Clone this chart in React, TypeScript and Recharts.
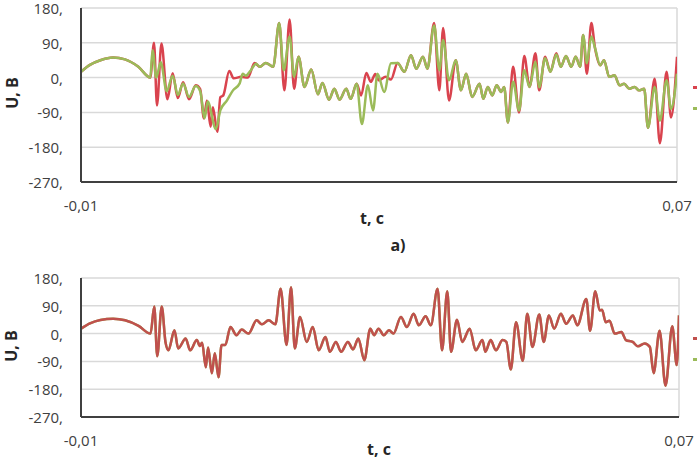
import { LineChart, Line, XAxis, YAxis, CartesianGrid, Legend } from "recharts";

// time in ms, voltage in V
const topRed: [number, number][] = [
  [-10, 15], [-8.8, 33], [-7.4, 45], [-5.7, 52], [-4.1, 47], [-2.3, 28], [-0.7, 0],
  [-0.2, 90], [0.2, -72], [0.8, 88], [1.6, -56], [2.3, 11], [3.0, -53], [3.7, -12],
  [4.5, -56], [5.4, -20], [6.0, -30], [6.5, -106], [6.9, -59], [7.4, -127], [7.7, -77],
  [8.3, -140], [8.7, -51], [9.1, -46], [9.9, 17], [10.5, -2], [11.5, 2], [12.4, 0],
  [13.3, 38], [14.0, 28], [14.8, 38], [15.8, 28], [16.6, 141], [17.3, -33], [18.0, 150],
  [18.6, -29], [19.2, 54], [20.0, -24], [20.9, 21], [21.8, -43], [22.4, -14], [23.3, -57],
  [24.0, -29], [24.7, -57], [25.6, -29], [26.2, -55], [27.0, -16], [27.6, -46], [28.3, 12],
  [28.9, -11], [29.5, 9], [30.0, -7], [30.9, 2], [31.6, -5], [32.5, 38], [33.4, 15],
  [34.3, 58], [35.0, 23], [35.9, 54], [36.5, 23], [37.4, 141], [38.1, -33], [38.6, 128],
  [39.4, -59], [40.3, 45], [41.0, -33], [41.7, 10], [42.5, -50], [43.5, -16], [44.0, -55],
  [44.6, -24], [45.2, -46], [45.8, -20], [46.4, -37], [46.8, -24], [47.3, -116], [48.0, 28],
  [48.8, -90], [49.5, 56], [50.2, -24], [51.0, 63], [51.5, -33], [52.3, 54], [53.0, 15],
  [53.8, 63], [54.4, 28], [55.1, 56], [55.8, 28], [56.4, 54], [57.0, 28], [57.4, 110],
  [57.9, 10], [58.5, 141], [59.0, 76], [59.7, 32], [60.2, 45], [60.9, 2], [61.6, 6],
  [62.3, -20], [62.9, -16], [63.6, -29], [64.3, -24], [64.9, -33], [65.6, -29], [66.1, -130],
  [67.0, -3], [67.7, -170], [68.6, 15], [69.2, -103], [70.0, 54],
];

const topGreen: [number, number][] = [
  [-10, 15], [-8.8, 33], [-7.4, 45], [-5.7, 52], [-4.1, 47], [-2.3, 28], [-0.7, 0],
  [-0.4, 71], [0.1, 0], [0.7, 40], [1.5, -35], [2.3, 5], [3.0, -45], [3.7, -15],
  [4.5, -50], [5.4, -22], [6.0, -35], [6.6, -105], [7.0, -62], [8.1, -133], [8.7, -85],
  [9.6, -59], [10.4, -33], [11.3, -15], [11.7, 10], [12.1, 5], [12.8, 19], [13.5, 36],
  [14.0, 28], [14.8, 38], [15.8, 28], [16.6, 141], [17.2, 19], [18.0, 106], [18.6, 2],
  [19.2, 54], [20.0, -24], [20.9, 21], [21.8, -43], [22.4, -14], [23.3, -57], [24.0, -29],
  [24.7, -57], [25.6, -29], [26.2, -55], [27.0, -16], [27.7, -120], [28.5, -20], [29.2, -85],
  [29.8, 10], [30.7, -37], [31.6, 37], [32.5, 38], [33.4, 15], [34.3, 58], [35.0, 23],
  [35.9, 54], [36.5, 23], [37.4, 135], [38.1, 19], [38.6, 97], [39.4, -7], [40.3, 45],
  [41.0, -33], [41.7, 10], [42.5, -50], [43.5, -16], [44.0, -55], [44.6, -24], [45.2, -46],
  [45.8, -20], [46.4, -37], [46.8, -24], [47.3, -116], [48.0, -11], [48.8, -85], [49.5, 19],
  [50.2, -24], [51.0, 41], [51.5, -25], [52.3, 50], [53.0, 15], [53.8, 60], [54.4, 28],
  [55.1, 56], [55.8, 28], [56.4, 54], [57.0, 28], [57.4, 110], [57.9, 37], [58.5, 106],
  [59.0, 76], [59.7, 32], [60.2, 45], [60.9, 2], [61.6, 6], [62.3, -20], [62.9, -16],
  [63.6, -29], [64.3, -24], [64.9, -33], [65.6, -29], [66.1, -130], [67.0, -24], [67.7, -111],
  [68.6, -7], [69.2, -81], [70.0, 10],
];

// lower plot: both series coincide
const bottomU: [number, number][] = [
  [-10, 16], [-8.8, 33], [-7.4, 44], [-5.7, 48], [-4.1, 43], [-2.3, 25], [-0.7, 0],
  [-0.2, 88], [0.2, -73], [0.8, 88], [1.3, -27], [1.7, -54], [2.5, 11], [3.0, -48],
  [4.0, -16], [4.6, -54], [5.5, -21], [5.9, -40], [6.2, -30], [6.7, -109], [7.0, -45],
  [7.5, -128], [7.9, -64], [8.4, -141], [8.8, -37], [9.3, -37], [10.0, 21], [10.8, -5],
  [11.5, 13], [12.4, 0], [13.5, 43], [14.2, 30], [15.1, 43], [16.0, 30], [16.7, 145],
  [17.5, -37], [18.1, 150], [18.6, -48], [19.3, 54], [20.2, -27], [21.0, 21], [21.8, -54],
  [22.7, -11], [23.3, -59], [24.1, -27], [24.8, -59], [25.7, -27], [26.4, -51], [27.1, -16],
  [27.9, -86], [28.7, 16], [29.2, -5], [29.8, 16], [30.5, -5], [31.2, 11], [31.8, 0],
  [32.8, 54], [33.6, 21], [34.5, 64], [35.2, 27], [36.1, 56], [36.8, 27], [37.7, 145],
  [38.3, -54], [39.0, 137], [39.5, -59], [40.3, 45], [41.0, -27], [42.0, 16], [42.8, -54],
  [43.7, -21], [44.1, -59], [44.8, -21], [45.5, -54], [46.4, -21], [46.9, -27], [47.5, -116],
  [48.2, 37], [49.1, -88], [49.7, 64], [50.4, -43], [51.3, 62], [51.9, -27], [52.6, 59],
  [53.3, 16], [54.2, 64], [54.9, 32], [55.8, 59], [56.4, 27], [57.6, 112], [58.1, 9],
  [58.8, 137], [59.4, 75], [59.7, 77], [60.2, 37], [60.7, 42], [61.4, 0], [62.3, 5],
  [62.9, -21], [63.8, -27], [64.5, -41], [65.4, -32], [66.1, -43], [66.6, -128], [67.4, 9],
  [68.2, -169], [69.1, 24], [69.7, -102], [70.0, 59],
];

const xTicks = [-0.01, 0.07];
const yTicks = [-270, -180, -90, 0, 90, 180];

const RED = "#d9434e";
const GREEN = "#9bbb59";
const RED_B = "#c0504d";
const FONT = '"Open Sans", sans-serif';

const toRows = (pts: [number, number][]) => pts.map(([ms, u]) => ({ t: ms / 1000, u }));

const fmtX = (v: number) => v.toFixed(2).replace(".", ",");
const fmtY = (v: number) => `${v},`;

const tickStyle = { fontSize: 15, fill: "#404040", fontFamily: FONT };
const axisStyle = { stroke: "#404040", strokeWidth: 2 };

const YTick = (p: any) => (
  <text x={p.x} y={p.y} dy={6} textAnchor="end" {...tickStyle}>
    {fmtY(p.payload.value)}
  </text>
);

const legendContent = (props: any) => (
  <div>
    {(props.payload || []).map((p: any) => (
      <div key={p.value} style={{ height: 21, display: "flex", alignItems: "center" }}>
        <div style={{ width: 12, height: 3, background: p.color }} />
      </div>
    ))}
  </div>
);

const title: React.CSSProperties = {
  position: "absolute",
  fontFamily: FONT,
  fontWeight: 700,
  fontSize: 16,
  color: "#262626",
  whiteSpace: "nowrap",
  transform: "translate(-50%, -50%)",
  lineHeight: 1.2,
};

function Panel(props: {
  series: { name: string; pts: [number, number][]; color: string }[];
  height: number;
  marginTop: number;
  marginRight: number;
  xHeight: number;
  legendTop: number;
}) {
  return (
    <LineChart
      width={697}
      height={props.height}
      margin={{ top: props.marginTop, right: props.marginRight, bottom: 0, left: 0 }}
    >
      <CartesianGrid stroke="#d9d9d9" strokeWidth={1.5} />
      <XAxis
        type="number"
        dataKey="t"
        domain={[-0.01, 0.07]}
        ticks={xTicks}
        tickFormatter={fmtX}
        height={props.xHeight}
        tickLine={false}
        tickSize={0}
        tickMargin={18}
        axisLine={axisStyle}
        tick={tickStyle}
        allowDataOverflow
      />
      <YAxis
        type="number"
        domain={[-270, 180]}
        ticks={yTicks}
        interval={0}
        width={81}
        tickLine={false}
        tickSize={0}
        tickMargin={18}
        axisLine={axisStyle}
        tick={YTick}
      />
      {props.series.map((s) => (
        <Line
          key={s.name}
          name={s.name}
          data={toRows(s.pts)}
          dataKey="u"
          type="monotone"
          stroke={s.color}
          strokeWidth={2.5}
          dot={false}
          activeDot={false}
          isAnimationActive={false}
        />
      ))}
      <Legend
        layout="horizontal"
        verticalAlign="middle"
        align="center"
        content={legendContent}
        wrapperStyle={{ left: 693, top: props.legendTop, width: 20 }}
      />
    </LineChart>
  );
}

export default function App() {
  return (
    <div
      style={{
        position: "absolute",
        left: 0,
        top: 0,
        width: 697,
        height: 462,
        overflow: "hidden",
        background: "#fff",
      }}
    >
      <div style={{ position: "absolute", left: 0, top: 0 }}>
        <Panel
          series={[
            { name: "U1", pts: topRed, color: RED },
            { name: "U2", pts: topGreen, color: GREEN },
          ]}
          height={235}
          marginTop={8}
          marginRight={20}
          xHeight={53}
          legendTop={77}
        />
      </div>
      <div style={{ position: "absolute", left: 0, top: 262 }}>
        <Panel
          series={[
            { name: "U2", pts: bottomU, color: GREEN },
            { name: "U1", pts: bottomU, color: RED_B },
          ]}
          height={200}
          marginTop={16}
          marginRight={18}
          xHeight={45}
          legendTop={66}
        />
      </div>
      <div style={{ ...title, left: 13, top: 93, transform: "translate(-50%, -50%) rotate(-90deg)" }}>U, B</div>
      <div style={{ ...title, left: 372, top: 219 }}>t, c</div>
      <div style={{ ...title, left: 398, top: 246 }}>a)</div>
      <div style={{ ...title, left: 12, top: 346, transform: "translate(-50%, -50%) rotate(-90deg)" }}>U, B</div>
      <div style={{ ...title, left: 379, top: 450 }}>t, c</div>
    </div>
  );
}
